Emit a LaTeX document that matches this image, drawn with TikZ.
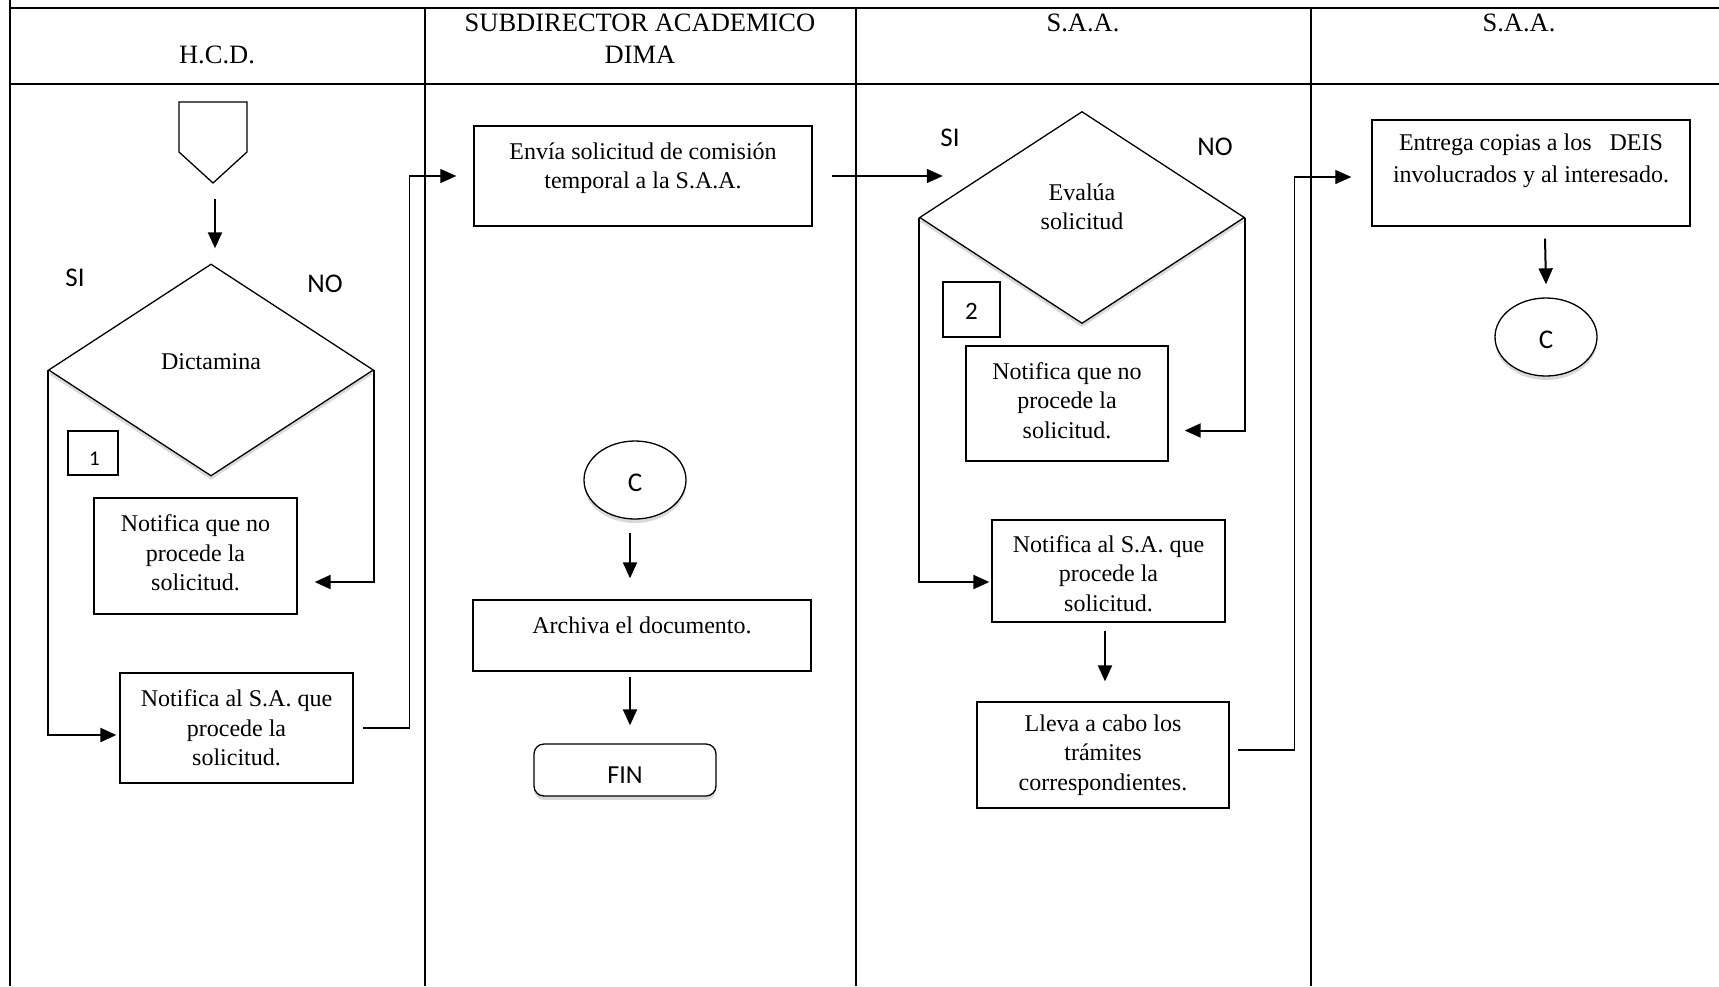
\documentclass[tikz,border=0pt]{standalone}
\usepackage{fontspec}
\setmainfont{Liberation Serif}
\newfontfamily\calfont{Carlito}
\usetikzlibrary{shapes.geometric,arrows.meta,shadows,calc}
\newcommand{\dn}{\rule[-6pt]{0pt}{0pt}}
\newcommand{\lowr}[2]{\raisebox{#1}[0pt][0pt]{#2}}
\begin{document}
\begin{tikzpicture}[x=1pt,y=1pt,
  lane/.style={line width=2.3pt},
  box/.style={draw, line width=1.3pt, fill=white, inner sep=0pt},
  tip/.style={-{Triangle[length=16pt,width=14pt]}},
  arr/.style={line width=2pt, tip},
  thinarr/.style={line width=1.1pt, tip},
  body/.style={font=\fontsize{24}{29.5}\selectfont, align=center, inner sep=0pt},
  head/.style={font=\fontsize{26.5}{32}\selectfont, align=center, inner sep=0pt},
  lab/.style={font=\calfont\fontsize{27}{30}\selectfont, inner sep=0pt},
  shad/.style={drop shadow={opacity=0.3, shadow xshift=0pt, shadow yshift=-4pt}},
  dec/.style={diamond, draw, line width=1.3pt, fill=white, minimum width=325pt, minimum height=212pt, inner sep=0pt, shad},
  connel/.style={ellipse, draw, line width=1.3pt, fill=white, minimum width=102pt, minimum height=78pt, inner sep=0pt, font=\calfont\fontsize{27}{30}\selectfont, shad},
  finbox/.style={rectangle, rounded corners=10pt, draw, line width=1.3pt, fill=white, minimum width=182pt, minimum height=52pt, inner sep=0pt, font=\calfont\fontsize{26}{30}\selectfont, shad}
]
\useasboundingbox (0,0) rectangle (1719,-986);
% lanes
\draw[lane] (10,0) -- (10,-986);
\draw[lane] (10,-8) -- (1719,-8);
\draw[lane] (10,-84) -- (1719,-84);
\foreach \x in {425,856,1311} \draw[lane] (\x,-8) -- (\x,-986);
% headers
\node[head] (h1) at (217,-55) {H.C.D.};
\node[head] (h2) at (640,-39) {SUBDIRECTOR ACADEMICO\\DIMA};
\node[head] (h3) at (1083,-23) {S.A.A.};
\node[head] (h4) at (1519,-23) {S.A.A.};

% ---------- lane 1
\draw[line width=1.3pt, fill=white] (179,-102) -- (247,-102) -- (247,-152) -- (213,-183) -- (179,-152) -- cycle;
\coordinate (start) at (213,-183);
\node[dec] (d1) at (211,-370) {};
\node[body] (t1) at (211,-362) {Dictamina};
\node[lab] (si1) at (75,-278) {SI};
\node[lab] (no1) at (325,-284) {NO};
\node[box, minimum width=50pt, minimum height=44pt, font=\calfont\fontsize{21}{24}\selectfont] (k1) at (93,-453) {\hspace{3pt}\lowr{-12pt}{1}};
\node[box, body, minimum width=203pt, minimum height=116pt] (n1) at (195.5,-556) {Notifica que no\\procede la\\solicitud.\dn};
\node[box, body, minimum width=233pt, minimum height=110pt] (n2) at (236.5,-728) {Notifica al S.A. que\\procede la\\solicitud.};
\draw[arr] ($(start)+(2,-16)$) -- ($(d1.north)+(4,15)$);
\draw[arr] (d1.east) |- ($(n1.east)+(17,-26)$);
\draw[arr] (d1.west) |- ($(n2.west)+(-3,-7)$);

% ---------- lane 2
\node[box, minimum width=338pt, minimum height=100pt] (env) at (643,-176) {};
\node[body] (envt) at ($(env.center)+(0,8)$) {Envía solicitud de comisión\\temporal a la S.A.A.};
\node[connel] (c1) at (635,-480) {\lowr{-11.5pt}{C}};
\node[box, minimum width=338pt, minimum height=71pt] (arch) at (642,-635.5) {};
\node[body] (archt) at ($(arch.center)+(0,10)$) {Archiva el documento.};
\node[finbox] (fin) at (625,-770) {\lowr{-13pt}{FIN}};
\draw[thinarr] ($(n2.east)+(9,0)$) -- ++(47,0) |- ($(env.west)+(-17,0)$);
\draw[arr] ($(c1.south)+(-5,-13)$) -- ($(arch.north)+(-12,21)$);
\draw[arr] ($(arch.south)+(-12,-5)$) -- ($(fin.north)+(5,18)$);

% ---------- lane 3
\node[dec] (d2) at (1082,-217.5) {};
\node[body] (t2) at (1082,-207) {Evalúa\\solicitud};
\node[lab] (si2) at (950,-138) {SI};
\node[lab] (no2) at (1215,-147) {NO};
\node[box, minimum width=57pt, minimum height=55pt, font=\calfont\fontsize{25}{30}\selectfont] (k2) at (971.5,-309.5) {\lowr{-10pt}{2}};
\node[box, body, minimum width=202pt, minimum height=115pt] (n3) at (1067,-403.5) {Notifica que no\\procede la\\solicitud.\dn};
\node[box, body, minimum width=233pt, minimum height=102pt] (n4) at (1108.5,-571) {\rule{0pt}{22pt}Notifica al S.A. que\\procede la\\solicitud.};
\node[box, body, minimum width=252pt, minimum height=106pt] (n5) at (1103,-755) {Lleva a cabo los\\trámites\\correspondientes.};
\draw[thinarr] ($(env.east)+(19,0)$) -- ($(env.east -| d2.west)+(24,0)$);
\draw[arr] (d2.east) |- ($(n3.east)+(16,-27)$);
\draw[arr] (d2.west) |- ($(n4.west)+(-2,-11)$);
\draw[arr] ($(n4.south)+(-3.5,-8)$) -- ($(n5.north)+(2,20)$);

% ---------- lane 4
\node[box, minimum width=318pt, minimum height=106pt] (ent) at (1531,-173) {};
\node[body, font=\fontsize{24}{31.5}\selectfont] (entt) at ($(ent.center)+(0,12)$) {Entrega copias a los\ \ \ DEIS\\involucrados y al interesado.};
\node[connel] (c2) at (1546,-337) {\lowr{-11.5pt}{C}};
\draw[thinarr] ($(n5.east)+(8,5)$) -- ++(57,0) |- ($(ent.west)+(-20,-4)$);
\draw[arr] ($(ent.south)+(14,-12)$) -- ($(c2.north)+(0,13)$);
\end{tikzpicture}
\end{document}
